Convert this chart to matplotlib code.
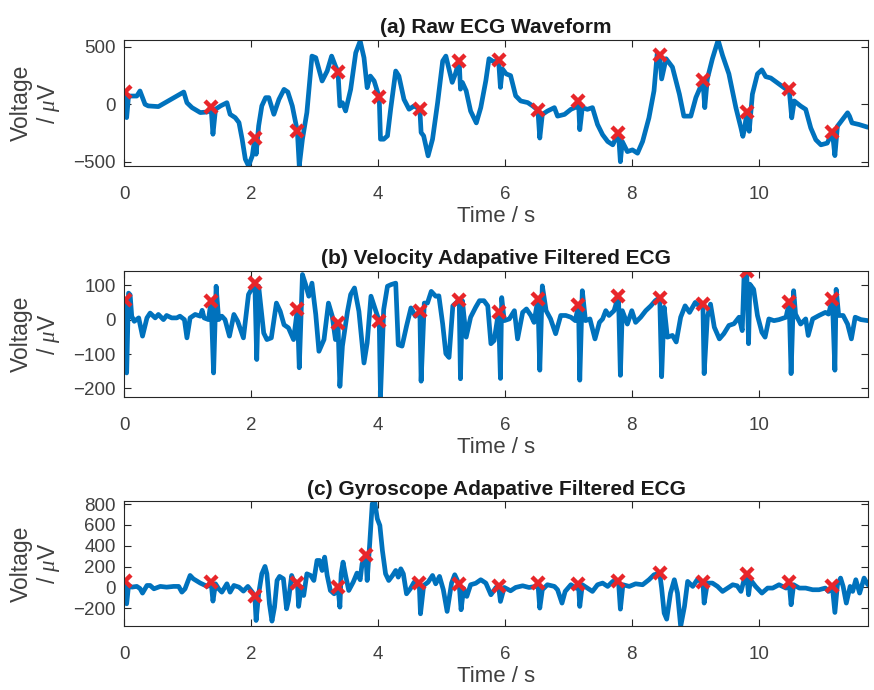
import matplotlib
matplotlib.use('Agg')
import matplotlib.pyplot as plt

plt.rcParams['font.family'] = ['Liberation Sans', 'DejaVu Sans']
plt.rcParams['mathtext.fontset'] = 'custom'
plt.rcParams['mathtext.it'] = 'Liberation Serif:italic'

# (a) raw ECG, time in s, voltage in uV
raw_t = [0.0, 0.02, 0.04, 0.07, 0.2, 0.25, 0.33, 0.38, 0.54, 0.83, 0.94, 0.99, 1.07, 1.2, 1.31,
         1.37, 1.4, 1.44, 1.52, 1.62, 1.67, 1.75, 1.81, 1.86, 1.91, 1.96, 2.02, 2.06, 2.08, 2.12,
         2.17, 2.23, 2.28, 2.36, 2.44, 2.52, 2.58, 2.65, 2.73, 2.76, 2.81, 2.88, 2.96, 3.02, 3.12,
         3.2, 3.27, 3.33, 3.37, 3.4, 3.44, 3.49, 3.57, 3.65, 3.72, 3.78, 3.83, 3.88, 3.94, 4.02,
         4.04, 4.09, 4.15, 4.2, 4.28, 4.33, 4.41, 4.49, 4.57, 4.66, 4.68, 4.72, 4.79, 4.86, 4.94,
         5.02, 5.07, 5.17, 5.22, 5.28, 5.3, 5.33, 5.39, 5.46, 5.55, 5.62, 5.7, 5.75, 5.83, 5.9,
         5.93, 5.96, 6.02, 6.09, 6.17, 6.25, 6.36, 6.44, 6.52, 6.55, 6.59, 6.67, 6.78, 6.83, 6.94,
         7.04, 7.12, 7.16, 7.18, 7.22, 7.3, 7.38, 7.46, 7.54, 7.62, 7.7, 7.79, 7.82, 7.85, 7.93,
         8.01, 8.09, 8.17, 8.27, 8.35, 8.4, 8.44, 8.47, 8.54, 8.64, 8.75, 8.82, 8.93, 9.01, 9.09,
         9.12, 9.15, 9.19, 9.27, 9.36, 9.43, 9.53, 9.64, 9.72, 9.75, 9.78, 9.81, 9.85, 9.9, 9.98,
         10.05, 10.11, 10.19, 10.32, 10.43, 10.48, 10.52, 10.56, 10.66, 10.74, 10.82, 10.9, 10.98,
         11.08, 11.16, 11.2, 11.24, 11.32, 11.4, 11.43, 11.47, 11.58, 11.72]
raw_v = [80, 110, -116, 72, 72, 116, 0, -14, -20, 72, 107, 14, -29, -72, -67,
         -25, -261, -43, -14, 14, -87, -116, -159, -304, -478, -536, -449, -290, -435, -188,
         -14, 58, 58, -87, 43, 130, 107, -14, -235, -536, -304, -72, 420, 406, 203,
         290, 420, 333, 285, -14, 14, -58, 130, 449, 551, 406, 145, 246, 203, 60,
         -304, -304, -275, -43, 290, 246, 43, -43, -14, -45, -246, -275, -449, -304, 14,
         377, 420, 191, 265, 380, 132, 191, 118, -59, -162, -29, 206, 397, 368, 390,
         147, 309, 265, 250, 74, 29, 15, -15, -50, -294, -88, -59, -29, -103, -88,
         -44, -24, 30, -221, -29, -44, -29, -176, -265, -324, -353, -250, -500, -324, -412,
         -397, -426, -324, -118, 118, 441, 430, 221, 397, 324, 88, -103, -103, 59, 162,
         210, -29, 221, 397, 559, 426, 265, -29, -206, -279, -206, -70, -235, 88, 265,
         300, 241, 229, 176, 132, 130, -118, 29, -15, -44, -206, -309, -353,
         -338, -240, -447, -191, -132, -74, -103, -162, -176, -200]

# (b) velocity adaptive filtered ECG
vel_t = [0.0, 0.02, 0.04, 0.07, 0.095, 0.12, 0.16, 0.23, 0.29, 0.36, 0.41, 0.49, 0.54, 0.62, 0.67,
         0.75, 0.83, 0.88, 0.95, 0.99, 1.04, 1.12, 1.2, 1.23, 1.26, 1.33, 1.37, 1.41, 1.45, 1.49,
         1.54, 1.59, 1.66, 1.73, 1.79, 1.88, 1.96, 2.02, 2.06, 2.09, 2.12, 2.2, 2.25, 2.32, 2.4,
         2.46, 2.52, 2.59, 2.67, 2.73, 2.76, 2.81, 2.86, 2.91, 2.96, 3.02, 3.07, 3.15, 3.22, 3.28,
         3.33, 3.37, 3.4, 3.44, 3.52, 3.57, 3.63, 3.7, 3.78, 3.83, 3.89, 3.96, 4.02, 4.04, 4.09,
         4.15, 4.21, 4.28, 4.32, 4.38, 4.45, 4.52, 4.59, 4.66, 4.68, 4.73, 4.78, 4.84, 4.91, 4.96,
         5.02, 5.07, 5.12, 5.18, 5.28, 5.3, 5.33, 5.39, 5.46, 5.54, 5.6, 5.67, 5.73, 5.78, 5.83,
         5.9, 5.93, 5.95, 5.99, 6.07, 6.15, 6.2, 6.28, 6.34, 6.41, 6.46, 6.52, 6.55, 6.59, 6.65,
         6.72, 6.8, 6.88, 6.96, 7.04, 7.11, 7.16, 7.18, 7.22, 7.27, 7.34, 7.42, 7.49, 7.54, 7.59,
         7.64, 7.72, 7.79, 7.82, 7.85, 7.93, 8.0, 8.06, 8.14, 8.22, 8.3, 8.37, 8.44, 8.47, 8.51,
         8.56, 8.64, 8.7, 8.77, 8.84, 8.91, 9.0, 9.06, 9.12, 9.14, 9.19, 9.24, 9.3, 9.38, 9.45,
         9.53, 9.61, 9.69, 9.74, 9.77, 9.81, 9.84, 9.86, 9.92, 9.98, 10.05, 10.1, 10.16, 10.24,
         10.32, 10.43, 10.48, 10.51, 10.55, 10.58, 10.66, 10.74, 10.78, 10.85, 10.95, 11.05, 11.1,
         11.16, 11.2, 11.22, 11.26, 11.33, 11.4, 11.46, 11.52, 11.61, 11.72]
vel_v = [29, 58, -155, 77, 72, 10, -5, 5, -48, 5, 19, 5, 15, 0, 12,
         5, 5, 10, 0, -53, 5, 15, 10, 27, 5, 0, 55, -155, 97, 0,
         10, 0, -48, 15, -5, -53, 73, 92, 105, -116, 97, -39, -58, -53, 48,
         24, -15, -24, -58, 30, -140, 131, 102, 68, 106, 15, -92, -58, 48, 10,
         -58, -10, -194, -77, 24, 73, 92, 24, -126, -68, 68, 29, -5, -223, 29,
         97, 102, 106, -73, -77, -19, 34, 10, 25, -179, 48, 48, 82, 68, 69,
         -13, -99, -110, 40, 57, -172, 55, -51, 7, 36, 55, 55, 40, -70, -61,
         22, -171, 64, -3, 2, 26, -56, 21, 31, 12, -8, 60, -147, 98, 26,
         2, -41, 12, 12, 7, -3, 43, -176, 84, -3, 2, -56, -8, 2, 26,
         12, 26, 69, -162, 26, -13, 26, -8, 7, 26, 40, 55, 64, -166, 36,
         -51, -46, -65, 7, 40, 21, 50, 40, 45, -157, 7, 45, -22, -56, -41,
         -17, -12, 7, -32, 132, 141, -70, 103, 88, 12, -37, -51, 2, -3,
         0, 7, 50, -157, 84, 16, -13, 2, -46, 2, 12, 21, 16,
         60, -147, 88, 12, 12, -13, -56, 7, 0, -3]

# (c) gyroscope adaptive filtered ECG
gyr_t = [0.0, 0.02, 0.04, 0.07, 0.12, 0.2, 0.25, 0.29, 0.36, 0.41, 0.47, 0.57, 0.67, 0.78, 0.86,
         0.91, 0.96, 1.04, 1.09, 1.2, 1.31, 1.37, 1.4, 1.44, 1.49, 1.54, 1.62, 1.67, 1.73, 1.81,
         1.88, 1.95, 2.02, 2.06, 2.08, 2.12, 2.17, 2.22, 2.25, 2.29, 2.33, 2.37, 2.41, 2.45, 2.51,
         2.56, 2.59, 2.64, 2.67, 2.73, 2.75, 2.79, 2.83, 2.88, 2.94, 2.99, 3.04, 3.08, 3.12, 3.16,
         3.2, 3.25, 3.31, 3.37, 3.4, 3.42, 3.45, 3.49, 3.54, 3.61, 3.67, 3.72, 3.75, 3.81, 3.83,
         3.87, 3.91, 3.95, 3.99, 4.03, 4.07, 4.12, 4.17, 4.23, 4.28, 4.32, 4.36, 4.4, 4.45, 4.51,
         4.57, 4.65, 4.67, 4.72, 4.79, 4.86, 4.91, 4.97, 5.03, 5.09, 5.16, 5.21, 5.28, 5.31, 5.35,
         5.4, 5.46, 5.54, 5.62, 5.7, 5.78, 5.86, 5.9, 5.93, 5.99, 6.09, 6.17, 6.28, 6.38, 6.49,
         6.52, 6.55, 6.59, 6.67, 6.78, 6.83, 6.9, 6.95, 7.04, 7.12, 7.16, 7.18, 7.22, 7.3, 7.38,
         7.46, 7.54, 7.62, 7.7, 7.79, 7.82, 7.86, 7.96, 8.06, 8.17, 8.27, 8.35, 8.44, 8.47, 8.51,
         8.55, 8.61, 8.67, 8.72, 8.77, 8.83, 8.88, 8.96, 9.03, 9.12, 9.14, 9.19, 9.27, 9.35, 9.43,
         9.51, 9.59, 9.66, 9.72, 9.77, 9.81, 9.84, 9.87, 9.95, 10.05, 10.14, 10.22, 10.32, 10.43,
         10.48, 10.51, 10.55, 10.64, 10.74, 10.85, 10.95, 11.05, 11.1, 11.16, 11.2, 11.24, 11.29,
         11.33, 11.38, 11.44, 11.48, 11.53, 11.59, 11.66, 11.72]
gyr_v = [35, 61, -157, 19, 3, 10, -10, -54, 19, 19, -13, 10, 3, 10, 10,
         -45, -13, 115, 83, 42, 10, 55, -131, 35, -13, -45, 35, -45, 19, 3,
         -35, 10, -45, -86, -317, -61, 131, 202, 131, -157, -323, -189, 67, 106, 83,
         -205, -125, 115, 67, 42, -182, 3, -77, 131, 115, 67, 259, 259, 163, 291,
         115, -29, -61, 3, -189, 131, 243, 115, -29, 51, 138, 74, 227, 307, 67,
         419, 803, 819, 659, 595, 355, 131, 67, 115, 163, 99, 179, 131, -61, -13,
         51, 42, -253, 19, 51, 115, 35, 106, -22, -230, 42, 122, 30, -214, -10,
         -86, 26, 40, 74, 42, -70, 0, 16, -134, 0, -32, 0, 16, 0, 10,
         42, -198, -22, 26, 10, -22, -150, -38, 26, -6, 32, -182, 26, -6, -38,
         26, 42, 10, 58, 65, -208, 26, 10, 35, 26, 74, 122, 135, -6, -246,
         -304, -54, 74, -54, -374, -182, 58, 10, 74, 51, -150, 42, 42, 10, -38,
         -6, 26, 16, -38, 74, 128, -70, 74, 10, -54, -6, -6, 26, -6,
         48, -166, 26, -6, -6, -22, -22, -6, -38, 10, -240, 26, 90,
         10, -150, 10, -38, 74, -54, 90, 26]

# detected R peaks
raw_peak_t = [0.02, 1.37, 2.06, 2.73, 3.37, 4.02, 4.66, 5.28, 5.9, 6.52, 7.16, 7.79, 8.44, 9.12, 9.81, 10.48, 11.16]
raw_peak_v = [110, -25, -290, -235, 285, 60, -45, 380, 390, -50, 30, -250, 430, 210, -70, 130, -240]
vel_peak_t = [0.02, 1.37, 2.06, 2.73, 3.37, 4.02, 4.66, 5.28, 5.9, 6.52, 7.16, 7.79, 8.44, 9.12, 9.81, 10.48, 11.16]
vel_peak_v = [58, 55, 105, 30, -10, -5, 25, 57, 22, 60, 43, 69, 64, 45, 141, 50, 60]
gyr_peak_t = [0.02, 1.37, 2.06, 2.73, 3.37, 3.81, 4.65, 5.28, 5.9, 6.52, 7.16, 7.79, 8.44, 9.12, 9.81, 10.48, 11.16]
gyr_peak_v = [61, 55, -86, 42, 3, 307, 42, 30, 16, 42, 32, 65, 135, 51, 128, 48, 10]

titles = ['(a) Raw ECG Waveform', '(b) Velocity Adapative Filtered ECG', '(c) Gyroscope Adapative Filtered ECG']
ylims = [(-540, 560), (-225, 142), (-367, 825)]
yticks = [[-500, 0, 500], [-200, -100, 0, 100], [-200, 0, 200, 400, 600, 800]]

fig = plt.figure(figsize=(8.74, 6.90), dpi=100)
boxes = [[0.142, 0.759, 0.851, 0.183], [0.142, 0.4246, 0.851, 0.183], [0.142, 0.0932, 0.851, 0.180]]
traces = [(raw_t, raw_v, raw_peak_t, raw_peak_v), (vel_t, vel_v, vel_peak_t, vel_peak_v),
          (gyr_t, gyr_v, gyr_peak_t, gyr_peak_v)]

for i in range(3):
    ax = fig.add_axes(boxes[i])
    t, v, pt, pv = traces[i]
    ax.plot(t, v, color='#0072BD', lw=3.4, solid_joinstyle='round', solid_capstyle='round')
    ax.plot(pt, pv, 'x', color='#E8262A', ms=8, mew=3.2)
    ax.set_xlim(0, 11.72)
    ax.set_ylim(ylims[i])
    ax.set_xticks([0, 2, 4, 6, 8, 10])
    ax.set_yticks(yticks[i])
    ax.tick_params(direction='in', top=True, right=True, length=5, width=0.8,
                   labelsize=13.5, colors='#262626', labelcolor='#404040')
    ax.tick_params(axis='x', pad=14.5)
    ax.tick_params(axis='y', pad=6)
    for s in ax.spines.values():
        s.set_color('#262626')
        s.set_linewidth(0.8)
    ax.set_title(titles[i], fontsize=15, fontweight='bold', color='#1a1a1a', pad=5)
    ax.set_xlabel('Time / s', fontsize=16, color='#404040', labelpad=2)
    ax.set_ylabel('Voltage\n/ $\\mu$V', fontsize=16.5, color='#404040', linespacing=1.1)
    ax.yaxis.set_label_coords(-0.083, 0.5)

fig.savefig('out.png', dpi=100)
